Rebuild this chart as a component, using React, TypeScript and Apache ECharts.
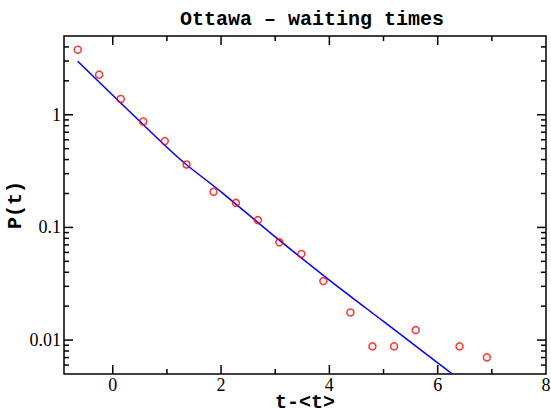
import React, { useEffect, useRef } from "react";
import * as echarts from "echarts";

const pointX = [-0.647, -0.251, 0.148, 0.562, 0.961, 1.362, 1.861, 2.274, 2.68, 3.076, 3.482, 3.889, 4.388, 4.795, 5.194, 5.595, 6.403, 6.908];
const pointY = [3.78, 2.27, 1.38, 0.872, 0.584, 0.362, 0.207, 0.165, 0.116, 0.0738, 0.0581, 0.0334, 0.0176, 0.00879, 0.00879, 0.01227, 0.00879, 0.00702];

const fitX = [-0.647, 0, 1, 1.368, 2, 3, 4, 5, 6, 6.27];
const fitY = [2.98, 1.49, 0.514, 0.358, 0.207, 0.0824, 0.0341, 0.01463, 0.00628, 0.005];

const xMajorTicks = [0, 2, 4, 6];
const xMinorTicks = [1, 3, 5, 7];
const yMajorTicks = [0.01, 0.1, 1];
const yMinorTicks = [0.006, 0.007, 0.008, 0.009, 0.02, 0.03, 0.04, 0.05, 0.06, 0.07, 0.08, 0.09, 0.2, 0.3, 0.4, 0.5, 0.6, 0.7, 0.8, 0.9, 2, 3, 4];
const yTickLabels: Record<string, string> = { "-2": "0.01", "-1": "0.1", "0": "1" };

const X_MIN = -0.9;
const X_MAX = 8;
const Y_MIN = 0.005;
const Y_MAX = 5;

const SERIF = "'Liberation Serif', 'Times New Roman', serif";

export default function App() {
  const ref = useRef<HTMLDivElement>(null);
  useEffect(() => {
    if (!ref.current) return;
    const chart = echarts.init(ref.current, null, { renderer: "svg" });
    const monoBold = { fontFamily: "'Liberation Mono', monospace", fontWeight: "bold" as const, fontSize: 20, color: "#000" };

    const xTickItem = (major: boolean) => (params: any, api: any) => {
      const cs = params.coordSys;
      const p = api.coord([api.value(0), 1]);
      const len = major ? 9 : 5;
      const st = { stroke: "#000", lineWidth: 1.5 };
      return {
        type: "group",
        children: [
          { type: "line", shape: { x1: p[0], y1: cs.y + cs.height, x2: p[0], y2: cs.y + cs.height - len }, style: st },
          { type: "line", shape: { x1: p[0], y1: cs.y, x2: p[0], y2: cs.y + len }, style: st },
        ],
      };
    };
    const yTickItem = (major: boolean) => (params: any, api: any) => {
      const cs = params.coordSys;
      const p = api.coord([0, api.value(1)]);
      const len = major ? 9 : 5;
      const st = { stroke: "#000", lineWidth: 1.5 };
      return {
        type: "group",
        children: [
          { type: "line", shape: { x1: cs.x, y1: p[1], x2: cs.x + len, y2: p[1] }, style: st },
          { type: "line", shape: { x1: cs.x + cs.width, y1: p[1], x2: cs.x + cs.width - len, y2: p[1] }, style: st },
        ],
      };
    };

    chart.setOption({
      animation: false,
      backgroundColor: "#fff",
      title: {
        text: "Ottawa \u2013 waiting times",
        left: 307,
        top: 4,
        textAlign: "center",
        textStyle: monoBold,
      },
      grid: {
        left: 64,
        right: 5,
        top: 36,
        bottom: 35,
        containLabel: false,
        outerBoundsMode: "none",
        show: true,
        borderColor: "#000",
        borderWidth: 1.5,
        backgroundColor: "transparent",
      },
      xAxis: {
        type: "value",
        min: X_MIN,
        max: X_MAX,
        name: "t-<t>",
        nameLocation: "middle",
        nameGap: 21,
        nameMoveOverlap: false,
        nameTextStyle: { ...monoBold, lineHeight: 14 },
        axisLine: { show: false },
        axisTick: { show: false },
        splitLine: { show: false },
        axisLabel: {
          fontFamily: SERIF,
          fontSize: 18,
          lineHeight: 16,
          color: "#000",
          margin: 3,
          formatter: (v: number) => (Math.abs(v - Math.round(v)) < 1e-9 ? String(Math.round(v)) : ""),
        },
      },
      yAxis: {
        type: "log",
        logBase: 10,
        min: Y_MIN,
        max: Y_MAX,
        name: "P(t)",
        nameLocation: "middle",
        nameGap: 39,
        nameMoveOverlap: false,
        nameTextStyle: monoBold,
        axisLine: { show: false },
        axisTick: { show: false },
        splitLine: { show: false },
        axisLabel: {
          fontFamily: SERIF,
          fontSize: 18,
          color: "#000",
          margin: 3,
          formatter: (v: number) => {
            const l = Math.log10(v);
            const r = Math.round(l);
            if (Math.abs(l - r) > 1e-6) return "";
            return yTickLabels[String(r)] ?? "";
          },
        },
      },
      series: [
        {
          type: "line",
          data: fitX.map((x, i) => [x, fitY[i]]),
          smooth: 0.3,
          showSymbol: false,
          lineStyle: { color: "#0000ff", width: 1.5 },
          z: 3,
        },
        {
          type: "scatter",
          data: pointX.map((x, i) => [x, pointY[i]]),
          symbol: "circle",
          symbolSize: 7,
          itemStyle: { color: "rgba(0,0,0,0)", borderColor: "#ff0000", borderWidth: 1.5 },
          z: 4,
        },
        { type: "custom", data: xMajorTicks.map((v) => [v, 1]), renderItem: xTickItem(true), silent: true, z: 5 },
        { type: "custom", data: xMinorTicks.map((v) => [v, 1]), renderItem: xTickItem(false), silent: true, z: 5 },
        { type: "custom", data: yMajorTicks.map((v) => [0, v]), renderItem: yTickItem(true), silent: true, z: 5 },
        { type: "custom", data: yMinorTicks.map((v) => [0, v]), renderItem: yTickItem(false), silent: true, z: 5 },
      ],
    });
    return () => chart.dispose();
  }, []);
  return <div ref={ref} style={{ position: "absolute", left: 0, top: 0, width: 551, height: 409 }} />;
}
